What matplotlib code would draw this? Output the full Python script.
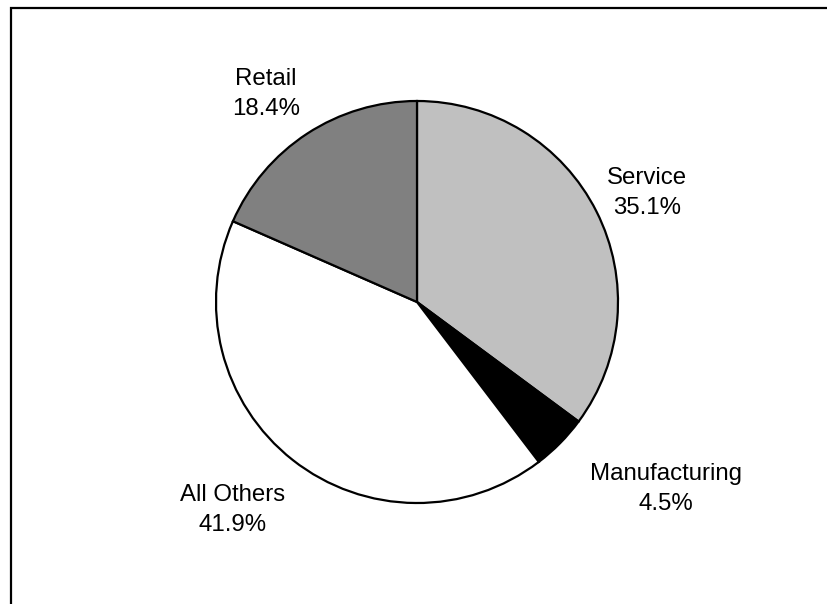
import matplotlib
matplotlib.use("Agg")
import matplotlib.pyplot as plt
from matplotlib.patches import Rectangle

sectors = ["Service", "Manufacturing", "All Others", "Retail"]
shares = [35.1, 4.5, 41.9, 18.4]
fills = ["#c0c0c0", "#000000", "#ffffff", "#808080"]

# label anchors in pie units (radius = 1)
label_xy = [(1.144, 0.542), (1.239, -0.930), (-0.920, -1.035), (-0.751, 1.035)]

plt.rcParams["font.family"] = ["Liberation Sans", "DejaVu Sans"]

W, H = 827, 604
fig = plt.figure(figsize=(W / 100, H / 100), dpi=100)
fig.patch.set_facecolor("white")

# outer frame, open on the right and bottom
fig.patches.append(Rectangle((11 / W, -0.1), 1.2, (H - 8) / H + 0.1,
                             transform=fig.transFigure, fill=False,
                             edgecolor="black", linewidth=1.6))

r_px = 201
cx, cy = 417, 302
ax = fig.add_axes([(cx - 402) / W, 0, 804 / W, 1])
ax.pie(shares, colors=fills, startangle=90, counterclock=False,
       wedgeprops=dict(edgecolor="black", linewidth=1.6))
ax.set_xlim(-402 / r_px, 402 / r_px)
ax.set_ylim(-(H - cy) / r_px, cy / r_px)
ax.set_aspect("auto")
ax.axis("off")

for name, val, (lx, ly) in zip(sectors, shares, label_xy):
    ax.text(lx, ly, f"{name}\n{val:.1f}%", ha="center", va="center",
            fontsize=17.3, linespacing=1.45, color="black")

fig.savefig("out.png", dpi=100)
